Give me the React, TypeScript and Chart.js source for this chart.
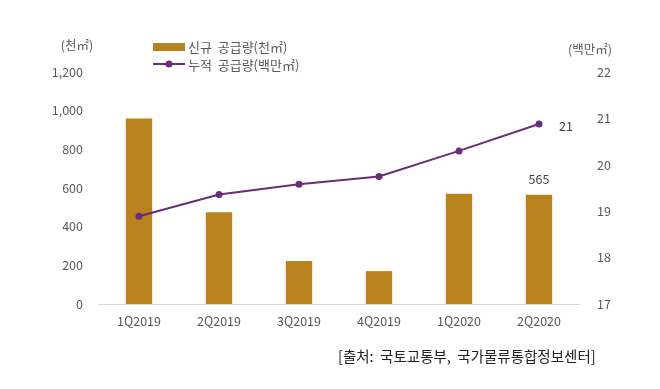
import React, { useEffect, useRef } from "react";
import { Chart, registerables } from "chart.js";

Chart.register(...registerables);

const categories = ["1Q2019", "2Q2019", "3Q2019", "4Q2019", "1Q2020", "2Q2020"];
const newSupply = [960, 475, 222, 170, 570, 565];
const cumulative = [18.89, 19.36, 19.58, 19.75, 20.3, 20.88];
const barLabel = "신규  공급량(천㎡)";
const lineLabel = "누적  공급량(백만㎡)";
const leftTitle = "(천㎡)";
const rightTitle = "(백만㎡)";
const sourceText = "[출처:  국토교통부,  국가물류통합정보센터]";
const lastBarLabel = "565";
const lastLineLabel = "21";

const BAR_COLOR = "#B8831F";
const LINE_COLOR = "#6B2C78";
const TEXT_COLOR = "#595959";
const FONT = "'Noto Sans CJK KR', 'Noto Sans', sans-serif";

const decorPlugin = {
  id: "decor",
  afterDraw(chart: any) {
    const ctx = chart.ctx as CanvasRenderingContext2D;
    ctx.save();
    ctx.font = `12.5px ${FONT}`;
    ctx.fillStyle = TEXT_COLOR;
    ctx.textBaseline = "middle";
    ctx.textAlign = "center";
    ctx.fillText(leftTitle, 77, 45);
    ctx.fillText(rightTitle, 590, 49);

    // legend
    ctx.fillStyle = BAR_COLOR;
    ctx.fillRect(153, 43, 32, 8);
    ctx.strokeStyle = LINE_COLOR;
    ctx.lineWidth = 2;
    ctx.beginPath();
    ctx.moveTo(153, 64);
    ctx.lineTo(185, 64);
    ctx.stroke();
    ctx.fillStyle = LINE_COLOR;
    ctx.beginPath();
    ctx.arc(169, 64, 3.5, 0, Math.PI * 2);
    ctx.fill();
    ctx.font = `13px ${FONT}`;
    ctx.fillStyle = TEXT_COLOR;
    ctx.textAlign = "left";
    ctx.fillText(barLabel, 188, 47);
    ctx.fillText(lineLabel, 188, 65);

    // data labels
    const barMeta = chart.getDatasetMeta(0);
    const lineMeta = chart.getDatasetMeta(1);
    const lastBar = barMeta.data[barMeta.data.length - 1];
    const lastPt = lineMeta.data[lineMeta.data.length - 1];
    ctx.font = `12.5px ${FONT}`;
    ctx.fillStyle = "#404040";
    ctx.textAlign = "center";
    ctx.fillText(lastBarLabel, lastBar.x, lastBar.y - 16);
    ctx.textAlign = "left";
    ctx.fillText(lastLineLabel, lastPt.x + 20, lastPt.y + 2);

    // source
    ctx.font = `14.5px ${FONT}`;
    ctx.fillStyle = "#222";
    ctx.textAlign = "left";
    ctx.fillText(sourceText, 338, 356);
    ctx.restore();
  },
};

export default function App() {
  const ref = useRef<HTMLCanvasElement>(null);
  useEffect(() => {
    if (!ref.current) return;
    const chart = new Chart(ref.current, {
      type: "bar",
      data: {
        labels: categories,
        datasets: [
          {
            type: "bar",
            label: barLabel,
            data: newSupply,
            backgroundColor: BAR_COLOR,
            yAxisID: "y",
            barPercentage: 0.33,
            categoryPercentage: 1,
            order: 2,
          },
          {
            type: "line",
            label: lineLabel,
            data: cumulative,
            borderColor: LINE_COLOR,
            backgroundColor: LINE_COLOR,
            borderWidth: 2,
            pointRadius: 3.5,
            pointBackgroundColor: LINE_COLOR,
            pointBorderWidth: 0,
            yAxisID: "y1",
            order: 1,
          } as any,
        ],
      },
      options: {
        animation: false,
        responsive: false,
        layout: { padding: { left: 0, right: 0, top: 72, bottom: 55 } },
        plugins: { legend: { display: false }, tooltip: { enabled: false } },
        scales: {
          x: {
            grid: { display: false, drawTicks: false },
            border: { color: "#D9D9D9", width: 1 },
            ticks: { color: TEXT_COLOR, font: { size: 12.5, family: FONT }, padding: 10, maxRotation: 0 },
            afterFit(s: any) { s.height = 30; },
          },
          y: {
            position: "left",
            min: 0,
            max: 1200,
            grid: { display: false, drawTicks: false },
            border: { display: false },
            ticks: { stepSize: 200, color: TEXT_COLOR, font: { size: 12.5, family: FONT }, padding: 16 },
            afterFit(s: any) { s.width = 99; },
          },
          y1: {
            position: "right",
            min: 17,
            max: 22,
            grid: { display: false, drawTicks: false },
            border: { display: false },
            ticks: { stepSize: 1, color: TEXT_COLOR, font: { size: 12.5, family: FONT }, padding: 18 },
            afterFit(s: any) { s.width = 81; },
          },
        },
      },
      plugins: [decorPlugin],
    });
    return () => chart.destroy();
  }, []);
  return (
    <div style={{ position: "fixed", left: 0, top: 0, width: 660, height: 389, background: "#fff" }}>
      <canvas ref={ref} width={660} height={389} />
    </div>
  );
}
